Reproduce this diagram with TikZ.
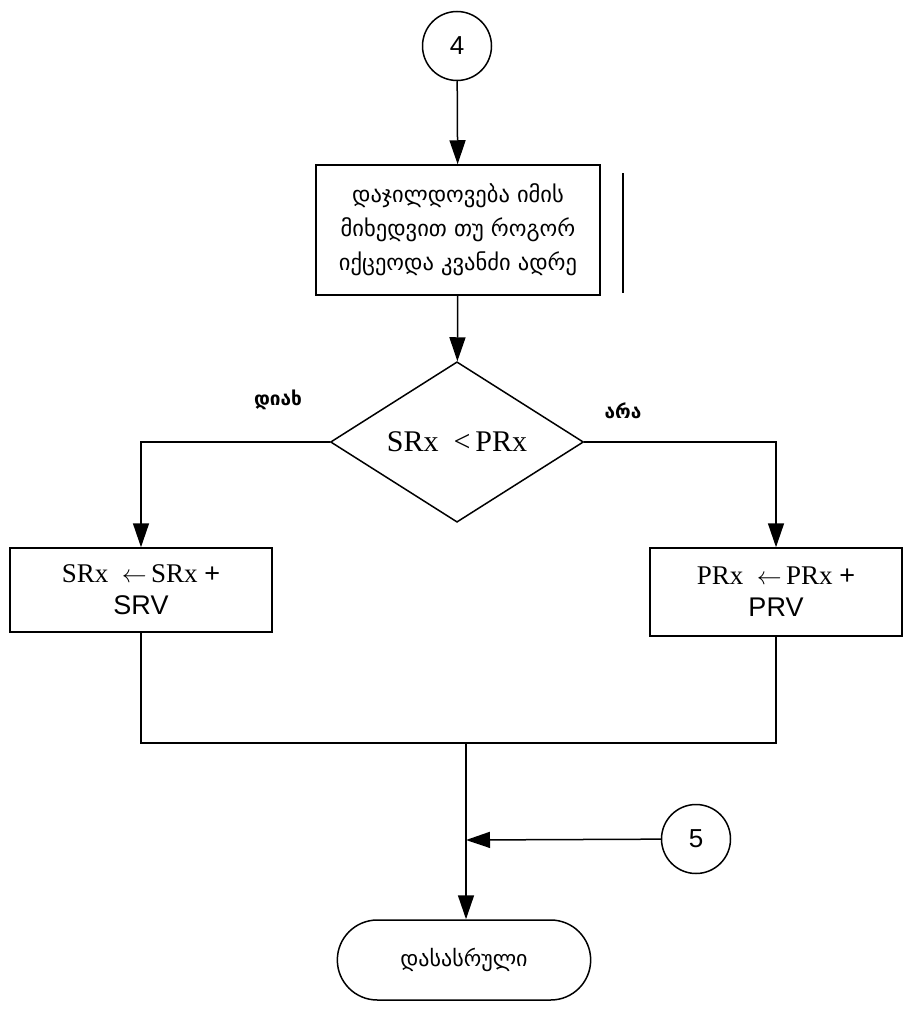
\documentclass[tikz,border=0pt]{standalone}
\usepackage{fontspec}
\setmainfont{Liberation Serif}
\setsansfont{Liberation Sans}
\newfontfamily\geofont[Script=Georgian]{DejaVu Sans}
\usetikzlibrary{arrows.meta,positioning,shapes.geometric,shapes.misc}

\begin{document}
\begin{tikzpicture}[x=1pt,y=-1pt,
  line width=1.5pt,
  flow/.style={-{Triangle[length=24pt,width=16pt]}},
  conn/.style={draw,circle,minimum size=69pt,inner sep=0pt,font=\sffamily\fontsize{26}{28}\selectfont},
  procbox/.style={draw,rectangle,align=center,inner sep=4pt},
  decide/.style={draw,diamond,minimum width=253pt,minimum height=151pt,inner sep=0pt,
    font=\fontsize{30}{32}\selectfont},
  termbox/.style={draw,rounded rectangle,minimum width=260pt,minimum height=80pt,
    font=\geofont\fontsize{22}{24}\selectfont},
  branch/.style={font=\geofont\bfseries\fontsize{19}{21}\selectfont}
]
  \useasboundingbox (0,0) rectangle (902,1025);
  % connector 4
  \node[conn] (c4) at (457,46) {4};
  % reward box
  \node[procbox,minimum width=284pt,minimum height=130pt,
    font=\geofont\fontsize{22.5}{34}\selectfont] (reward) at (458,230) {
    დაჯილდოვება იმის\\მიხედვით თუ როგორ\\იქცეოდა კვანძი ადრე};
  \draw ([xshift=22pt,yshift=-9pt]reward.north east) -- ([xshift=22pt,yshift=3pt]reward.south east);
  % decision
  \node[decide] (cmp) at (457,442) {SRx \ <\,PRx};
  \node[branch] (yes) at (278,400) {დიახ};
  \node[branch] (no) at (623,411) {არა};
  % update boxes
  \node[procbox,minimum width=262pt,minimum height=84pt,font=\fontsize{27}{32}\selectfont]
    (supd) at (141,590) {SRx \ $\leftarrow$\,SRx {\sffamily +}\\{\sffamily SRV}};
  \node[procbox,minimum width=252pt,minimum height=88pt,font=\fontsize{27}{32}\selectfont]
    (pupd) at (776,592) {PRx \ $\leftarrow$\,PRx {\sffamily +}\\{\sffamily PRV}};
  % join and end
  \coordinate (join) at (466,743);
  \coordinate (merge) at (466,840);
  \node[conn] (c5) at (696,839) {5};
  \node[termbox] (stop) at (464,960) {დასასრული};
  % connectors
  \draw[flow] (c4) -- (reward);
  \draw[flow] (reward) -- (cmp);
  \draw[flow] (cmp.west) -| (supd.north);
  \draw[flow] (cmp.east) -| (pupd.north);
  \draw (supd.south) |- (join) -| (pupd.south);
  \draw[flow] (join) -- (stop.north -| join);
  \draw[flow] (c5) -- (merge);
\end{tikzpicture}
\end{document}
